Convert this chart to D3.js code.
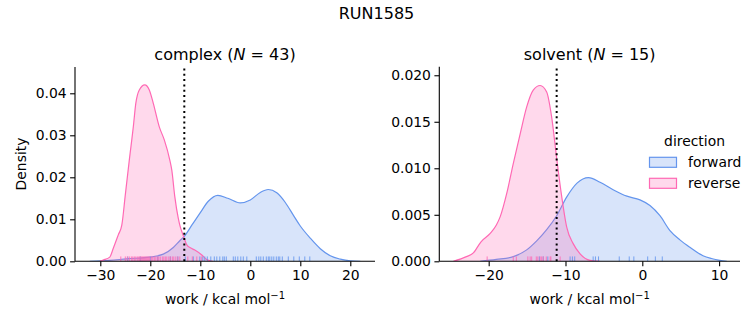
<!DOCTYPE html>
<html><head><meta charset="utf-8">
<script src="https://cdn.jsdelivr.net/npm/d3@7"></script>
<style>
body{margin:0;background:#fff;}
text{font-family:"DejaVu Sans",sans-serif;fill:#000;}
</style></head>
<body><svg id="c" width="753" height="325"></svg>
<script>
// ---- data ----
const suptitle = "RUN1585";
const directions = ["forward", "reverse"];
const colors = {forward: "#6495ed", reverse: "#ff69b4"};

// complex panel
const complexN = 43;
const complexXTicks = [-30, -20, -10, 0, 10, 20];
const complexYTicks = [0, 0.01, 0.02, 0.03, 0.04];
const complexDG = -13.2;
const complexForwardKDE = [
  [-32.1,0],[-28.1,0.0002],[-24.7,0.0006],[-20.1,0.001],[-17.4,0.0017],[-15.4,0.0033],
  [-14.1,0.0049],[-13.3,0.0058],[-11.7,0.0086],[-10.1,0.0114],[-8.4,0.0143],[-6.5,0.0157],
  [-4.5,0.0150],[-2.0,0.0139],[0.0,0.0146],[2.0,0.0164],[3.6,0.0171],[5.3,0.0163],
  [7.0,0.0140],[8.6,0.0110],[10.0,0.0084],[12.0,0.0055],[14.0,0.0030],[16.0,0.0013],
  [18.0,0.0005],[20.0,0.0001],[22.0,0]
];
const complexReverseKDE = [
  [-30.1,0],[-29.4,0.0003],[-28.1,0.001],[-27.4,0.0031],[-26.4,0.0063],[-25.7,0.0086],
  [-25.0,0.0158],[-24.2,0.0241],[-23.4,0.0320],[-22.9,0.0376],[-22.2,0.0408],[-21.1,0.0420],
  [-20.2,0.0408],[-19.4,0.0376],[-18.2,0.0320],[-17.2,0.0289],[-16.1,0.0241],[-15.7,0.0217],
  [-15.1,0.0154],[-14.4,0.0102],[-14.1,0.0086],[-13.3,0.0058],[-12.7,0.0039],[-12.0,0.0032],
  [-11.1,0.0027],[-9.7,0.0015],[-8.7,0.0004],[-7.5,0]
];
const complexForwardWork = [
  -24.5,-22.0,-20.0,-18.5,-16.0,-14.5,-13.0,
  -11.4,-10.1,-9.5,-9.1,-8.6,-7.9,-7.2,-6.7,-6.1,-5.5,-5.2,-4.8,-3.4,-3.0,-2.5,-1.9,-1.4,-0.7,
  1.2,1.7,2.1,2.6,3.2,3.6,3.9,4.3,4.7,5.2,5.6,5.9,6.4,7.6,8.7,9.8,10.9,11.9
];
const complexReverseWork = [
  -25.9,-25.0,-24.6,-24.2,-23.8,-23.5,-23.2,-22.9,-22.6,-22.3,-22.1,-21.9,-21.7,-21.5,-21.3,
  -21.1,-20.9,-20.7,-20.5,-20.3,-20.1,-19.8,-19.5,-19.2,-18.9,-18.6,-18.3,-18.0,-17.6,-17.3,
  -17.0,-16.7,-16.3,-16.0,-15.6,-15.3,-14.9,-14.5,-14.1,-12.5,-11.6,-10.7,-9.8
];

// solvent panel
const solventN = 15;
const solventXTicks = [-20, -10, 0, 10];
const solventYTicks = [0, 0.005, 0.01, 0.015, 0.02];
const solventDG = -11.15;
const solventForwardKDE = [
  [-21.1,0],[-19.0,0.0002],[-16.8,0.0005],[-15.1,0.0012],[-13.75,0.0022],[-12.45,0.0034],
  [-11.15,0.0049],[-9.85,0.0069],[-8.5,0.0084],[-7.0,0.0090],[-5.5,0.0085],[-3.8,0.0077],
  [-2.0,0.0070],[-0.3,0.0066],[1.0,0.0060],[2.3,0.0049],[3.6,0.0033],[4.9,0.0023],
  [6.2,0.0015],[7.9,0.0006],[9.0,0.0003],[10.1,0.0001],[11.0,0]
];
const solventReverseKDE = [
  [-24.6,0],[-22.9,0.0005],[-22.0,0.0009],[-21.0,0.0021],[-19.8,0.0030],[-19.0,0.0039],
  [-18.5,0.0048],[-17.65,0.0073],[-16.8,0.0105],[-15.9,0.0137],[-15.05,0.0166],[-14.2,0.0184],
  [-13.3,0.0189],[-12.45,0.0182],[-11.8,0.0155],[-11.15,0.0111],[-10.5,0.0070],[-9.85,0.0037],
  [-9.0,0.0019],[-8.1,0.0008],[-6.8,0.0001],[-5.5,0]
];
const solventForwardWork = [
  -13.4,-12.9,-12.3,-9.4,-9.1,-8.8,-6.4,-6.1,-5.7,-3.0,-1.7,-1.1,0.7,1.7,2.6
];
const solventReverseWork = [
  -20.2,-16.8,-16.4,-14.9,-14.6,-14.4,-13.8,-13.6,-13.3,-13.1,-12.9,-12.5,-12.0,-11.9,-10.7
];

// ---- drawing ----
const svg = d3.select("#c");
svg.append("text").attr("x", 376.5).attr("y", 19).attr("text-anchor","middle")
  .style("font-size","16px").text(suptitle);

function panel(opt){
  const g = svg.append("g");
  const x = d3.scaleLinear().domain(opt.xd).range([opt.left, opt.right]);
  const y = d3.scaleLinear().domain(opt.yd).range([opt.bottom, opt.top]);
  const area = d3.area().x(d=>x(d[0])).y0(y(0)).y1(d=>y(d[1])).curve(d3.curveMonotoneX);
  const line = d3.line().x(d=>x(d[0])).y(d=>y(d[1])).curve(d3.curveMonotoneX);
  const clip = "clip" + opt.id;
  svg.append("clipPath").attr("id", clip).append("rect")
    .attr("x", opt.left).attr("y", opt.top).attr("width", opt.right-opt.left).attr("height", opt.bottom-opt.top);
  const pg = g.append("g").attr("clip-path", `url(#${clip})`);
  opt.series.forEach(s=>{
    pg.append("path").datum(s.kde).attr("d", area).attr("fill", colors[s.dir]).attr("fill-opacity", 0.25);
    pg.append("path").datum(s.kde).attr("d", line).attr("fill","none").attr("stroke", colors[s.dir]).attr("stroke-width", 1.2);
  });
  const rugH = (opt.bottom - opt.top) * 0.025;
  opt.series.forEach(s=>{
    pg.selectAll(null).data(s.rug).enter().append("line")
      .attr("x1", d=>x(d)).attr("x2", d=>x(d))
      .attr("y1", opt.bottom).attr("y2", opt.bottom - rugH)
      .attr("stroke", colors[s.dir]).attr("stroke-width", 1).attr("stroke-opacity", 0.85);
  });
  g.append("line").attr("x1", x(opt.dg)).attr("x2", x(opt.dg))
    .attr("y1", opt.bottom).attr("y2", opt.top)
    .attr("stroke", "#000").attr("stroke-width", 2).attr("stroke-dasharray", "2,3.3");

  const fmtMinus = s => s.replace("-", "\u2212");
  const xa = g.append("g").attr("transform", `translate(0,${opt.bottom})`)
    .call(d3.axisBottom(x).tickValues(opt.xt).tickSize(4.9).tickPadding(3.5).tickFormat(d=>fmtMinus(d3.format("d")(d))));
  const ya = g.append("g").attr("transform", `translate(${opt.left},0)`)
    .call(d3.axisLeft(y).tickValues(opt.yt).tickSize(4.9).tickPadding(3.5).tickFormat(d3.format(opt.yf)));
  [xa, ya].forEach(a=>{
    a.select(".domain").attr("stroke","#000").attr("stroke-width",1.1);
    a.selectAll(".tick line").attr("stroke","#000").attr("stroke-width",1.1);
    a.selectAll(".tick text").style("font-size","13.9px").style("font-family","DejaVu Sans").attr("fill","#000");
  });
  ya.select(".domain").attr("d", `M-0,${opt.bottom}V${opt.top}`);
  xa.select(".domain").attr("d", `M${opt.left},0H${opt.right}`);

  // title
  const cx = (opt.left + opt.right) / 2;
  const t = g.append("text").attr("x", cx).attr("y", 60).attr("text-anchor","middle").style("font-size","16px");
  t.append("tspan").text(opt.name + " (");
  t.append("tspan").style("font-style","italic").text("N");
  t.append("tspan").text(" = " + opt.n + ")");
  // x label
  const xl = g.append("text").attr("x", cx).attr("y", 304).attr("text-anchor","middle").style("font-size","13.9px");
  xl.append("tspan").text("work / kcal mol");
  xl.append("tspan").attr("dy", -5).style("font-size","10px").text("\u22121");
  return {x, y};
}

panel({id:"a", name:"complex", n:complexN, left:75, right:375, top:67, bottom:261.3,
  xd:[-35.06, 24.94], yd:[0, 0.04626], xt:complexXTicks, yt:complexYTicks, yf:".2f", dg:complexDG,
  series:[{dir:"forward", kde:complexForwardKDE, rug:complexForwardWork},
          {dir:"reverse", kde:complexReverseKDE, rug:complexReverseWork}]});
panel({id:"b", name:"solvent", n:solventN, left:439.3, right:740, top:66.7, bottom:261.3,
  xd:[-26.43, 12.72], yd:[0, 0.02092], xt:solventXTicks, yt:solventYTicks, yf:".3f", dg:solventDG,
  series:[{dir:"forward", kde:solventForwardKDE, rug:solventForwardWork},
          {dir:"reverse", kde:solventReverseKDE, rug:solventReverseWork}]});

// y label
svg.append("text").attr("transform","translate(26,164) rotate(-90)").attr("text-anchor","middle")
  .style("font-size","13.9px").text("Density");

// legend
const lg = svg.append("g");
lg.append("text").attr("x", 694.5).attr("y", 146).attr("text-anchor","middle").style("font-size","13.9px").text("direction");
directions.forEach((d,i)=>{
  const yy = 157.3 + i*21;
  lg.append("rect").attr("x", 649.5).attr("y", yy).attr("width", 27).attr("height", 10)
    .attr("fill", colors[d]).attr("fill-opacity", 0.25).attr("stroke", colors[d]).attr("stroke-width", 1.2);
  lg.append("text").attr("x", 688).attr("y", yy + 10).style("font-size","13.9px").text(d);
});
</script></body></html>
